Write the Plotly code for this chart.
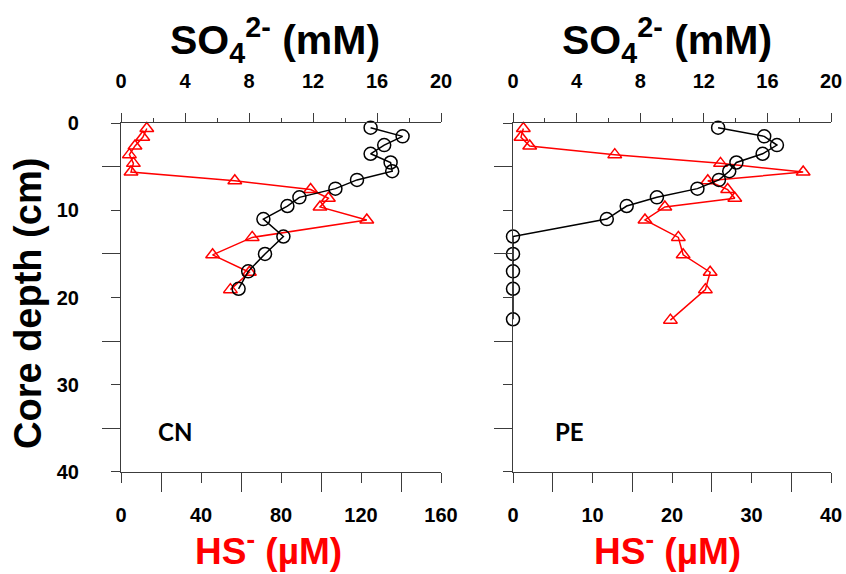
import plotly.graph_objects as go

# ---- depth profiles -------------------------------------------------------
# CN core
cn_so4_depth = [0.5, 1.5, 2.5, 3.5, 4.5, 5.5, 6.5, 7.5, 8.5, 9.5, 11, 13, 15, 17, 19]
cn_so4 = [15.6, 17.6, 16.45, 15.6, 16.85, 16.95, 14.75, 13.4, 11.15, 10.4, 8.9, 10.15, 9.0, 7.95, 7.35]
cn_hs_depth = [0.6, 1.6, 2.6, 3.6, 4.6, 5.6, 6.6, 7.6, 8.6, 9.6, 11.1, 13.1, 15.1, 17.1, 19.1]
cn_hs = [12.9, 10.9, 7.0, 4.2, 6.2, 5.0, 56.9, 94.8, 103.7, 99.5, 122.9, 65.6, 45.8, 64.2, 54.7]

# PE core
pe_so4_depth = [0.5, 1.5, 2.5, 3.5, 4.5, 5.5, 6.5, 7.5, 8.5, 9.5, 11, 13, 15, 17, 19, 22.5]
pe_so4 = [12.9, 15.8, 16.6, 15.7, 14.05, 13.6, 12.95, 11.6, 9.05, 7.15, 5.9, 0, 0, 0, 0, 0]
pe_hs_depth = [0.6, 1.6, 2.6, 3.6, 4.6, 5.6, 6.6, 7.6, 8.6, 9.6, 11.1, 13.1, 15.1, 17.1, 19.1, 22.6]
pe_hs = [1.3, 1.0, 2.1, 12.8, 26.1, 36.5, 24.5, 27.0, 27.9, 19.1, 16.6, 20.8, 21.4, 24.8, 24.2, 19.8]

# axis settings
depth_range = [40, 0]
so4_range = [0, 20]
cn_hs_range = [0, 160]
pe_hs_range = [0, 40]
panel_labels = ["CN", "PE"]

W, H = 846, 574


def px(x):
    return x / W


def py(y):
    return 1 - y / H


FONT = "Liberation Sans, Arial, sans-serif"
AX = "#3c3c3c"
tickfont = dict(family=FONT, size=20, color="black", weight="bold")

fig = go.Figure()

so4_marker = dict(symbol="circle-open", size=13, color="black", line=dict(width=1.5))
hs_marker = dict(symbol="triangle-up-open", size=12, color="red", line=dict(width=1.5))

# CN panel
fig.add_trace(go.Scatter(x=cn_so4, y=cn_so4_depth, xaxis="x2", yaxis="y", mode="lines+markers",
                         line=dict(color="black", width=1.5), marker=so4_marker, cliponaxis=False))
fig.add_trace(go.Scatter(x=cn_hs, y=cn_hs_depth, xaxis="x", yaxis="y", mode="lines+markers",
                         line=dict(color="red", width=1.5), marker=hs_marker, cliponaxis=False))
# PE panel
fig.add_trace(go.Scatter(x=pe_so4, y=pe_so4_depth, xaxis="x4", yaxis="y2", mode="lines+markers",
                         line=dict(color="black", width=1.5), marker=so4_marker, cliponaxis=False))
fig.add_trace(go.Scatter(x=pe_hs, y=pe_hs_depth, xaxis="x3", yaxis="y2", mode="lines+markers",
                         line=dict(color="red", width=1.5), marker=hs_marker, cliponaxis=False))

dom_left = [px(121), px(441)]
dom_right = [px(513), px(831)]
dom_y = [py(471.7), py(123.3)]

common = dict(showgrid=False, zeroline=False, showline=True, linecolor=AX, linewidth=1.2,
              ticks="outside", tickwidth=1.2, tickcolor=AX, tick0=0, tickfont=tickfont,
              automargin=False)


def bottom_axis(rng, dtick, domain, anchor):
    return dict(common, domain=domain, anchor=anchor, range=rng, side="bottom",
                ticklen=10, dtick=dtick, ticklabelstandoff=15,
                minor=dict(ticks="outside", ticklen=19, tickwidth=1.2, tickcolor=AX,
                           tick0=0, dtick=dtick / 2, showgrid=False))


def top_axis(overlay, anchor):
    return dict(common, overlaying=overlay, anchor=anchor, range=so4_range, side="top",
                ticklen=9, dtick=4, ticklabelstandoff=17,
                minor=dict(ticks="outside", ticklen=4, tickwidth=1.2, tickcolor=AX,
                           tick0=0, dtick=2, showgrid=False))


def depth_axis(anchor, labels):
    return dict(common, domain=dom_y, anchor=anchor, range=depth_range,
                ticklen=9, dtick=10, showticklabels=labels, ticklabelstandoff=28,
                minor=dict(ticks="outside", ticklen=18, tickwidth=1.2, tickcolor=AX,
                           tick0=0, dtick=5, showgrid=False))


fig.update_layout(
    width=W, height=H,
    margin=dict(l=0, r=0, t=0, b=0, autoexpand=False),
    paper_bgcolor="white", plot_bgcolor="white",
    showlegend=False,
    xaxis=bottom_axis(cn_hs_range, 40, dom_left, "y"),
    xaxis2=top_axis("x", "y"),
    xaxis3=bottom_axis(pe_hs_range, 10, dom_right, "y2"),
    xaxis4=top_axis("x3", "y2"),
    yaxis=depth_axis("x", True),
    yaxis2=depth_axis("x3", False),
)

title_font = dict(family=FONT, size=41, color="black", weight="bold")
hs_font = dict(family=FONT, size=37, color="red", weight="bold")

annotations = []
for cx in (275, 667):
    annotations.append(dict(text="SO<sub>4</sub><sup>2-</sup> (mM)", x=px(cx), y=py(40),
                            xref="paper", yref="paper", showarrow=False, font=title_font,
                            xanchor="center", yanchor="middle"))
for cx in (268, 667):
    annotations.append(dict(text="HS<sup>-</sup> (µM)", x=px(cx), y=py(548),
                            xref="paper", yref="paper", showarrow=False, font=hs_font,
                            xanchor="center", yanchor="middle"))
annotations.append(dict(text="Core depth (cm)", x=px(28), y=py(304), xref="paper", yref="paper",
                        showarrow=False, textangle=-90,
                        font=dict(family=FONT, size=38, color="black", weight="bold"),
                        xanchor="center", yanchor="middle"))
for label, cx in zip(panel_labels, (175, 569)):
    annotations.append(dict(text=label, x=px(cx), y=py(431), xref="paper", yref="paper",
                            showarrow=False,
                            font=dict(family="Lato, sans-serif", size=24, color="black", weight="bold"),
                            xanchor="center", yanchor="middle"))
fig.update_layout(annotations=annotations)

fig.write_html("out.html")
